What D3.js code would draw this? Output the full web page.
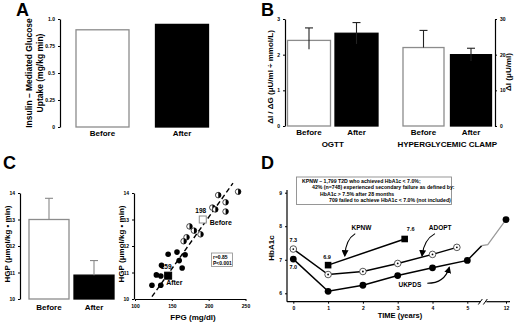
<!DOCTYPE html>
<html>
<head>
<meta charset="utf-8">
<script src="https://cdn.jsdelivr.net/npm/d3@7"></script>
<style>
  body { margin: 0; background: #fff; }
  svg { font-family: "Liberation Sans", Arial, sans-serif; font-weight: bold; }
  .tick text { font-size: 5px; font-weight: bold; }
</style>
</head>
<body>
<div id="chart"></div>
<script>
// ---- data ----
const groups = ['Before', 'After']

// A: insulin mediated glucose uptake
const uptake = [0.9, 0.95]
const uptakeTicks = [0, 0.25, 0.5, 0.75, 1]
const uptakeTickLabels = ['0', '0.25', '0.5', '0.75', '1.0']

// B: OGTT and hyperglycemic clamp
const ogtt = [2.4, 2.6]
const ogttErrUp = [0.35, 0.3]
const ogttErrDown = [0.25, 0.3]
const ogttTicks = [0, 1, 2, 3]
const clamp = [22, 20]
const clampErrUp = [4.8, 1.8]
const clampErrDown = [0, 1.8]
const clampTicks = [0, 10, 20, 30]

// C: HGP bars
const hgp = [13.0, 10.9]
const hgpErr = [0.8, 0.55]
const hgpTicks = [10, 11, 12, 13, 14]

// C: scatter FPG vs HGP
const beforeFPG = [240, 213, 223, 223, 205, 209, 189, 174, 180, 170, 166]
const beforeHGP = [14.05, 13.92, 13.65, 13.3, 13.45, 13.38, 12.44, 12.74, 12.58, 12.33, 12.18]
const afterFPG = [145, 157, 168, 136, 160, 164, 129, 135, 123, 135]
const afterHGP = [11.69, 11.77, 11.67, 11.27, 11.45, 11.17, 10.91, 10.87, 10.52, 10.52]
const meanFPG = [192, 145]
const meanHGP = [13.0, 10.88]
const meanLabels = ['198', '159']
const fitFPG = [123, 233]
const fitHGP = [10.09, 14.37]
const fpgTicks = [100, 150, 200, 250]

// D: HbA1c over time
const yearTicks = [0, 1, 2, 3, 4, 5, 12]
const ukpdsYears = [0, 1, 2, 3, 4, 5]
const ukpds = [7.02, 6.06, 6.24, 6.53, 6.76, 6.98]
const ukpdsTailYears = [7.6, 8.7, 12]
const ukpdsTail = [7.42, 7.45, 8.2]
const adoptYears = [0, 1, 2, 3, 4, 4.7]
const adopt = [7.32, 6.56, 6.65, 6.89, 7.16, 7.37]
const kpnwYears = [1, 3.2]
const kpnw = [6.84, 7.62]
const hbTicks = [6, 7, 8, 9]
const boxLines = [
  'KPNW \u2013 1,799 T2D  who achieved HbA1c < 7.0%;',
  '42% (n=748) experienced secondary failure as defined by:',
  'HbA1c > 7.5% after 28 months',
  '709 failed to achieve  HbA1c < 7.0% (not included)'
]

const svg = d3.select('#chart')
  .append('svg')
  .attr('width', 520)
  .attr('height', 322)

svg.append('defs').append('marker')
  .attr('id', 'arrow')
  .attr('viewBox', '0 0 10 10')
  .attr('refX', 8).attr('refY', 5)
  .attr('markerWidth', 7).attr('markerHeight', 7)
  .attr('markerUnits', 'userSpaceOnUse')
  .attr('orient', 'auto')
  .append('path')
  .attr('d', 'M0,0 L10,5 L0,10 z')
  .attr('fill', '#000')

const grey = '#8c8c8c'
const plain = d => d

function styleAxis (g) {
  g.select('.domain').attr('stroke', '#000').attr('stroke-width', 1.2)
  g.selectAll('.tick line').attr('stroke', '#000')
}

function letter (x, y, t) {
  svg.append('text').attr('x', x).attr('y', y)
    .attr('font-size', 18).text(t)
}

function rotLabel (x, y, lines, size) {
  const t = svg.append('text')
    .attr('transform', `translate(${x},${y}) rotate(-90)`)
    .attr('text-anchor', 'middle')
    .attr('font-size', size || 8)
  lines.forEach((l, i) => t.append('tspan').attr('x', 0).attr('y', i * 11).text(l))
}

// draw a pair of bars with error whiskers
function bars (xs, y, vals, up, down, width, errColor) {
  vals.forEach((v, i) => {
    const cx = xs(groups[i])
    svg.append('rect')
      .attr('x', cx - width / 2)
      .attr('y', y(v))
      .attr('width', width)
      .attr('height', y.range()[0] - y(v))
      .attr('fill', i === 0 ? '#fff' : '#000')
      .attr('stroke', i === 0 ? grey : '#000')
      .attr('stroke-width', 1.3)
    if (up) {
      const c = errColor ? errColor[i] : '#222'
      svg.append('line')
        .attr('x1', cx).attr('x2', cx)
        .attr('y1', y(v - (down ? down[i] : 0))).attr('y2', y(v + up[i]))
        .attr('stroke', c).attr('stroke-width', 1.1)
      svg.append('line')
        .attr('x1', cx - 4).attr('x2', cx + 4)
        .attr('y1', y(v + up[i])).attr('y2', y(v + up[i]))
        .attr('stroke', c).attr('stroke-width', 1.1)
    }
  })
}

// ---------- A ----------
letter(16, 16, 'A')
const xA = d3.scalePoint().domain(groups).range([102.5, 182])
const yA = d3.scaleLinear().domain([0, 1]).range([127, 19])
svg.append('g').attr('transform', 'translate(60,0)')
  .call(d3.axisLeft(yA).tickValues(uptakeTicks).tickSize(2).tickSizeOuter(0)
    .tickFormat((d, i) => uptakeTickLabels[i]))
  .call(styleAxis)
bars(xA, yA, uptake, null, null, 53)
groups.forEach(g => svg.append('text').attr('x', xA(g)).attr('y', 136)
  .attr('text-anchor', 'middle').attr('font-size', 8).text(g))
rotLabel(32, 73, ['Insulin \u2013 Mediated Glucose', 'Uptake (mg/kg  min)'], 8.5)

// ---------- B ----------
letter(261, 16, 'B')
const xB1 = d3.scalePoint().domain(groups).range([309, 356.5])
const xB2 = d3.scalePoint().domain(groups).range([423.5, 471])
const yB1 = d3.scaleLinear().domain([0, 3]).range([126, 19])
const yB2 = d3.scaleLinear().domain([0, 30]).range([126, 19])
svg.append('g').attr('transform', 'translate(285,0)')
  .call(d3.axisLeft(yB1).tickValues(ogttTicks).tickSize(2).tickSizeOuter(0).tickFormat(plain))
  .call(styleAxis)
svg.append('g').attr('transform', 'translate(495,0)')
  .call(d3.axisRight(yB2).tickValues(clampTicks).tickSize(2).tickSizeOuter(0).tickFormat(plain))
  .call(styleAxis)
bars(xB1, yB1, ogtt, ogttErrUp, ogttErrDown, 43)
bars(xB2, yB2, clamp, clampErrUp, clampErrDown, 41)
groups.forEach(g => {
  svg.append('text').attr('x', xB1(g)).attr('y', 135)
    .attr('text-anchor', 'middle').attr('font-size', 8).text(g)
  svg.append('text').attr('x', xB2(g)).attr('y', 135)
    .attr('text-anchor', 'middle').attr('font-size', 8).text(g)
})
svg.append('text').attr('x', d3.mean(xB1.range())).attr('y', 147)
  .attr('text-anchor', 'middle').attr('font-size', 8).text('OGTT')
svg.append('text').attr('x', d3.mean(xB2.range())).attr('y', 147)
  .attr('text-anchor', 'middle').attr('font-size', 8).text('HYPERGLYCEMIC CLAMP')
rotLabel(273, 77, ['\u0394I / \u0394G (\u03bcU/ml \u00f7 mmol/L)'])
rotLabel(511, 72, ['\u0394I (\u03bcU/ml)'])

// ---------- C bars ----------
letter(3, 169, 'C')
const xC = d3.scalePoint().domain(groups).range([49, 94])
const yC = d3.scaleLinear().domain([10, 14]).range([299, 193])
svg.append('g').attr('transform', 'translate(20,0)')
  .call(d3.axisLeft(yC).tickValues(hgpTicks).tickSize(2).tickSizeOuter(0).tickFormat(plain))
  .call(styleAxis)
bars(xC, yC, hgp, hgpErr, null, 40, ['#888', '#888'])
groups.forEach(g => svg.append('text').attr('x', xC(g)).attr('y', 310)
  .attr('text-anchor', 'middle').attr('font-size', 8).text(g))
rotLabel(10, 244, ['HGP (\u03bcmol/kg \u2022 min)'])

// ---------- C scatter ----------
const xS = d3.scaleLinear().domain([100, 250]).range([135, 245.5])
const yS = yC
svg.append('g').attr('transform', 'translate(134,0)')
  .call(d3.axisLeft(yS).tickValues(hgpTicks).tickSize(2).tickSizeOuter(0).tickFormat(plain))
  .call(styleAxis)
svg.append('g').attr('transform', 'translate(0,299)')
  .call(d3.axisBottom(xS).tickValues(fpgTicks).tickSize(2).tickSizeOuter(0).tickFormat(plain))
  .call(styleAxis)
svg.append('text').attr('x', 193).attr('y', 320)
  .attr('text-anchor', 'middle').attr('font-size', 8).text('FPG (mg/dl)')
rotLabel(124, 244, ['HGP (\u03bcmol/kg \u2022 min)'])

svg.append('line')
  .attr('x1', xS(fitFPG[0])).attr('y1', yS(fitHGP[0]))
  .attr('x2', xS(fitFPG[1])).attr('y2', yS(fitHGP[1]))
  .attr('stroke', '#000').attr('stroke-width', 1.4)
  .attr('stroke-dasharray', '5,3')

const r = 2.8
beforeFPG.forEach((f, i) => {
  const cx = xS(f), cy = yS(beforeHGP[i])
  svg.append('circle').attr('cx', cx).attr('cy', cy).attr('r', r)
    .attr('fill', '#fff').attr('stroke', '#000').attr('stroke-width', 0.7)
  svg.append('path')
    .attr('d', `M${cx},${cy - r} A${r},${r} 0 0 1 ${cx},${cy + r} Z`)
    .attr('fill', '#000')
})
afterFPG.forEach((f, i) => {
  svg.append('circle').attr('cx', xS(f)).attr('cy', yS(afterHGP[i])).attr('r', r)
    .attr('fill', '#000')
})
meanFPG.forEach((f, i) => {
  svg.append('rect')
    .attr('x', xS(f) - 3.5).attr('y', yS(meanHGP[i]) - 3.5)
    .attr('width', 7).attr('height', 7)
    .attr('fill', i === 0 ? '#fff' : '#000')
    .attr('stroke', i === 0 ? grey : '#000').attr('stroke-width', 1)
  svg.append('text')
    .attr('x', xS(f) - 2).attr('y', yS(meanHGP[i]) - 7)
    .attr('text-anchor', 'middle').attr('font-size', 6.5).text(meanLabels[i])
})
svg.append('text').attr('x', xS(meanFPG[0]) + 7).attr('y', yS(meanHGP[0]) + 5)
  .attr('font-size', 7).text('Before')
svg.append('text').attr('x', xS(meanFPG[1]) - 2).attr('y', yS(meanHGP[1]) + 9)
  .attr('font-size', 7).text('After')

svg.append('rect').attr('x', 211.5).attr('y', 253).attr('width', 21).attr('height', 13.5)
  .attr('fill', '#fff').attr('stroke', grey).attr('stroke-width', 0.8)
svg.append('text').attr('x', 213).attr('y', 259).attr('font-size', 5).text('r=0.85')
svg.append('text').attr('x', 213).attr('y', 265).attr('font-size', 5).text('P<0.001')

// ---------- D ----------
letter(261, 169, 'D')
const xD = d3.scaleLinear().domain([0, 5, 12]).range([293.3, 467.3, 506])
const yD = d3.scaleLinear().domain([6, 9]).range([293.3, 192.7])
const breakYear = 7.9

svg.append('g').attr('transform', 'translate(287,0)')
  .call(d3.axisLeft(yD).tickValues(hbTicks).tickSize(2).tickSizeOuter(0).tickFormat(plain))
  .call(g => g.select('.domain').remove())
  .call(styleAxis)
svg.append('line').attr('x1', 287).attr('x2', 287).attr('y1', 190).attr('y2', 301.7)
  .attr('stroke', '#000').attr('stroke-width', 1.2)

const xAxisD = svg.append('g').attr('transform', 'translate(0,301.7)')
  .call(d3.axisBottom(xD).tickValues(yearTicks).tickSize(2).tickFormat(plain))
  .call(g => g.select('.domain').remove())
  .call(styleAxis)
xAxisD.selectAll('.tick text').attr('font-size', 7)
const bx = xD(breakYear)
svg.append('line').attr('x1', 287).attr('x2', bx - 3).attr('y1', 301.7).attr('y2', 301.7)
  .attr('stroke', '#000').attr('stroke-width', 1.2)
svg.append('line').attr('x1', bx + 3).attr('x2', 510).attr('y1', 301.7).attr('y2', 301.7)
  .attr('stroke', '#000').attr('stroke-width', 1.2)
;[-3, 2].forEach(o => svg.append('line')
  .attr('x1', bx + o - 2).attr('y1', 304.5).attr('x2', bx + o + 2).attr('y2', 299)
  .attr('stroke', '#000').attr('stroke-width', 1))

svg.append('text').attr('x', 400).attr('y', 318)
  .attr('text-anchor', 'middle').attr('font-size', 7.5).text('TIME (years)')
rotLabel(274, 248, ['HbA1c'])

const lineD = d3.line().x(d => xD(d[0])).y(d => yD(d[1]))
svg.append('path').attr('d', lineD(d3.zip(ukpdsYears, ukpds).concat([[ukpdsTailYears[0], ukpdsTail[0]]])))
  .attr('fill', 'none').attr('stroke', '#000').attr('stroke-width', 1.5)
svg.append('path').attr('d', lineD(d3.zip(ukpdsTailYears, ukpdsTail)))
  .attr('fill', 'none').attr('stroke', '#999').attr('stroke-width', 1.2)
svg.append('path').attr('d', lineD(d3.zip(adoptYears, adopt)))
  .attr('fill', 'none').attr('stroke', '#000').attr('stroke-width', 1.5)
svg.append('path').attr('d', lineD(d3.zip(kpnwYears, kpnw)))
  .attr('fill', 'none').attr('stroke', '#000').attr('stroke-width', 1.5)

ukpdsYears.concat([12]).forEach((t, i) => {
  const v = i < ukpds.length ? ukpds[i] : ukpdsTail[ukpdsTail.length - 1]
  svg.append('circle').attr('cx', xD(t)).attr('cy', yD(v)).attr('r', 3.4).attr('fill', '#000')
})
adoptYears.forEach((t, i) => {
  svg.append('circle').attr('cx', xD(t)).attr('cy', yD(adopt[i])).attr('r', 3.3)
    .attr('fill', '#fff').attr('stroke', '#444').attr('stroke-width', 0.9)
  svg.append('circle').attr('cx', xD(t)).attr('cy', yD(adopt[i])).attr('r', 0.9).attr('fill', '#000')
})
kpnwYears.forEach((t, i) => {
  svg.append('rect').attr('x', xD(t) - 3.3).attr('y', yD(kpnw[i]) - 3.3)
    .attr('width', 6.6).attr('height', 6.6).attr('fill', '#000')
})

// value labels
const valLabel = (x, y, t) => svg.append('text').attr('x', x).attr('y', y)
  .attr('text-anchor', 'middle').attr('font-size', 5.5).text(t)
valLabel(xD(adoptYears[0]), yD(adopt[0]) - 7, '7.3')
valLabel(xD(ukpdsYears[0]), yD(ukpds[0]) + 10, '7.0')
valLabel(xD(kpnwYears[0]) - 1, yD(kpnw[0]) - 6.5, '6.9')
valLabel(xD(kpnwYears[1]) + 6, yD(kpnw[1]) - 8, '7.6')

// series names with arrows
const nameLabel = (t, v, s) => svg.append('text').attr('x', xD(t)).attr('y', yD(v))
  .attr('text-anchor', 'middle').attr('font-size', 6.5).text(s)
nameLabel(1.96, 7.9, 'KPNW')
nameLabel(4.22, 7.9, 'ADOPT')
nameLabel(3.35, 6.2, 'UKPDS')
const arrow = (p0, c, p1) => svg.append('path')
  .attr('d', `M${xD(p0[0])},${yD(p0[1])} Q${xD(c[0])},${yD(c[1])} ${xD(p1[0])},${yD(p1[1])}`)
  .attr('fill', 'none').attr('stroke', '#000').attr('stroke-width', 1.1)
  .attr('marker-end', 'url(#arrow)')
arrow([1.78, 7.78], [1.5, 7.6], [1.48, 7.12])
arrow([4.07, 7.78], [3.75, 7.6], [3.7, 7.12])
arrow([3.85, 6.3], [4.35, 6.3], [4.48, 6.77])

// info box
svg.append('rect').attr('x', 296.5).attr('y', 177).attr('width', 155).attr('height', 27.5)
  .attr('fill', '#fff').attr('stroke', grey).attr('stroke-width', 0.9)
const boxX = [302, 312, 320, 329]
boxLines.forEach((l, i) => svg.append('text')
  .attr('x', boxX[i]).attr('y', 182.5 + i * 6.5)
  .attr('font-size', 5.2).text(l))
</script>
</body>
</html>
